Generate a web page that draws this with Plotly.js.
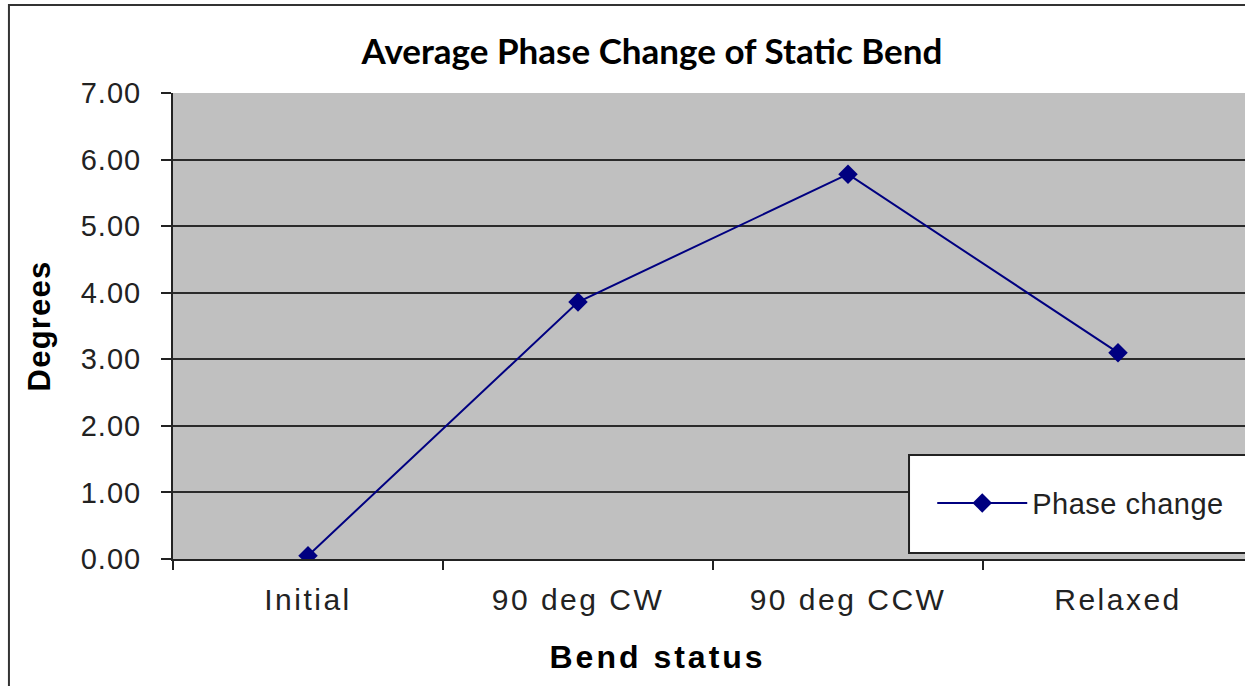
<!DOCTYPE html>
<html>
<head>
<meta charset="utf-8">
<script src="https://cdn.plot.ly/plotly-3.0.1.min.js"></script>
<style>
html,body{margin:0;padding:0;overflow:hidden;background:#fff;}
#chart{width:1260px;height:686px;}
#chart g.xtick text{letter-spacing:2.5px;}
#chart g.ytick text{letter-spacing:1px;}
#chart .annotation-text{letter-spacing:3px;}
#chart .g-ytitle text{letter-spacing:1.2px;}
#chart .legendtext{letter-spacing:0.5px;}
</style>
</head>
<body>
<div id="chart"></div>
<script>
const categories = ["Initial", "90 deg CW", "90 deg CCW", "Relaxed"];
const phaseChange = [0.05, 3.86, 5.78, 3.10];
const seriesName = "Phase change";
const chartTitle = "Average Phase Change of Static Bend";
const xTitle = "Bend status";
const yTitle = "Degrees";

const trace = {
  x: categories,
  y: phaseChange,
  name: seriesName,
  type: "scatter",
  mode: "lines+markers",
  line: {color: "#000080", width: 2},
  marker: {symbol: "diamond", size: 15, color: "#000080"},
  showlegend: true
};

const layout = {
  width: 1260,
  height: 686,
  margin: {l: 173, r: 7, t: 93, b: 127},
  paper_bgcolor: "#ffffff",
  plot_bgcolor: "#c0c0c0",
  title: {
    text: "<b>" + chartTitle + "</b>",
    font: {family: "Lato, 'Open Sans', sans-serif", size: 35, color: "#000"},
    x: 0.4435, xref: "paper", xanchor: "center",
    y: 0.924, yref: "container", yanchor: "middle"
  },
  xaxis: {
    type: "category",
    range: [-0.5, 3.5],
    tickson: "boundaries",
    ticks: "outside",
    ticklen: 9,
    tickwidth: 2,
    tickcolor: "#222",
    showline: true,
    linecolor: "#222",
    linewidth: 2,
    showgrid: false,
    zeroline: false,
    tickfont: {family: "'Liberation Sans', Arial, sans-serif", size: 30, color: "#222"},
    ticklabelstandoff: 13
  },
  yaxis: {
    range: [0, 7],
    dtick: 1,
    tick0: 0,
    tickformat: ".2f",
    ticks: "outside",
    ticklen: 10,
    tickwidth: 2,
    tickcolor: "#222",
    showline: true,
    linecolor: "#222",
    linewidth: 2,
    showgrid: true,
    gridcolor: "#2a2a2a",
    gridwidth: 2,
    zeroline: false,
    tickfont: {family: "'Liberation Sans', Arial, sans-serif", size: 29, color: "#222"},
    ticklabelstandoff: 14,
    title: {
      text: "<b>" + yTitle + "</b>",
      font: {family: "'Liberation Sans', Arial, sans-serif", size: 31, color: "#000"},
      standoff: 25
    }
  },
  annotations: [
    {text: "<b>" + xTitle + "</b>", xref: "paper", yref: "paper", x: 0.449, y: -0.2103,
     xanchor: "center", yanchor: "middle", showarrow: false,
     font: {family: "'Liberation Sans', Arial, sans-serif", size: 32, color: "#000"}}
  ],
  legend: {
    x: 0.703, xanchor: "left",
    y: 0.12, yanchor: "middle",
    bgcolor: "rgba(0,0,0,0)",
    borderwidth: 0,
    itemwidth: 90,
    font: {family: "'Liberation Sans', Arial, sans-serif", size: 29, color: "#222"}
  },
  shapes: [
    {type: "rect", xref: "paper", yref: "paper", x0: 0.6815, x1: 1.2, y0: 0.013, y1: 0.223,
     fillcolor: "#ffffff", line: {color: "#222", width: 2}, layer: "above"},
    {type: "rect", xref: "paper", yref: "paper", x0: -0.1519, x1: 1.3, y0: -0.5, y1: 1.189,
     fillcolor: "rgba(0,0,0,0)", line: {color: "#333", width: 2}, layer: "below"}
  ]
};

Plotly.newPlot("chart", [trace], layout, {displayModeBar: false, staticPlot: true});
</script>
</body>
</html>
